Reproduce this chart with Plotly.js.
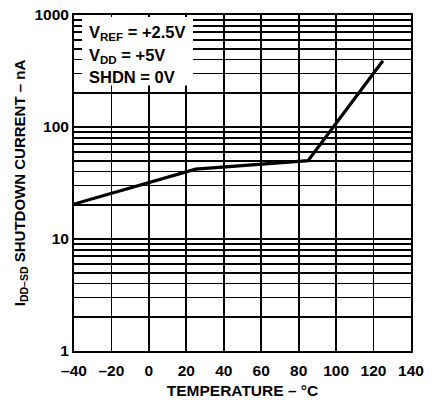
<!DOCTYPE html>
<html><head><meta charset="utf-8">
<script src="https://cdn.plot.ly/plotly-3.0.1.min.js"></script>
<style>html,body{margin:0;padding:0;background:#fff}#chart{width:432px;height:400px}</style>
</head><body><div id="chart"></div>
<script>
// Data
const temperature = [-40, 0, 20, 25, 85, 125];
const shutdownCurrent = [20.5, 32, 39.5, 42, 50, 390];

const xTickVals = [-40, -20, 0, 20, 40, 60, 80, 100, 120, 140];
const xTickText = ['–40', '–20', '0', '20', '40', '60', '80', '100', '120', '140'];
const yTickVals = [1, 10, 100, 1000];
const yTickText = ['1', '10', '100', '1000'];
const yMinorVals = [2,3,4,5,6,7,8,9,20,30,40,50,60,70,80,90,200,300,400,500,600,700,800,900];

const noteLines = ['V<sub>REF</sub> = +2.5V', 'V<sub>DD</sub> = +5V', 'SHDN = 0V'];
const noteY = [0.946, 0.878, 0.814];

const trace = {
  x: temperature, y: shutdownCurrent, type: 'scatter', mode: 'lines',
  line: {color: '#000', width: 3.2}, hoverinfo: 'skip'
};

const layout = {
  width: 432, height: 400,
  margin: {l: 74, r: 21, t: 15, b: 49},
  paper_bgcolor: '#fff', plot_bgcolor: '#fff',
  showlegend: false,
  font: {family: 'Liberation Sans, Arial, sans-serif', color: '#000', size: 15, weight: 'bold'},
  xaxis: {
    range: [-40, 140], tickvals: xTickVals, ticktext: xTickText,
    showgrid: true, gridcolor: '#000', gridwidth: 1.8, zeroline: false,
    showline: true, linecolor: '#000', linewidth: 2, mirror: true,
    ticks: 'outside', ticklen: 4, tickcolor: 'rgba(0,0,0,0)',
    tickfont: {size: 15.5, weight: 'bold'},
    title: {text: 'TEMPERATURE – °C', font: {size: 15.5, weight: 'bold'}, standoff: 8}
  },
  yaxis: {
    type: 'log', range: [0, 3], tickvals: yTickVals, ticktext: yTickText,
    showgrid: true, gridcolor: '#000', gridwidth: 1.8, zeroline: false,
    minor: {tickvals: yMinorVals, showgrid: true, gridcolor: '#000', gridwidth: 1.8, ticks: ''},
    showline: true, linecolor: '#000', linewidth: 2, mirror: true,
    ticks: '', tickfont: {size: 15.5, weight: 'bold'},
    title: {text: 'I<sub>DD–SD</sub> SHUTDOWN CURRENT – nA', font: {size: 15, weight: 'bold'}, standoff: 5}
  },
  shapes: [{
    type: 'rect', xref: 'paper', yref: 'paper', layer: 'above',
    x0: 0.024, x1: 0.353, y0: 0.79, y1: 0.994,
    fillcolor: '#fff', line: {width: 0}
  }],
  annotations: noteLines.map((t, i) => ({
    xref: 'paper', yref: 'paper', x: 0.038, y: noteY[i], xanchor: 'left', yanchor: 'middle',
    align: 'left', showarrow: false, text: t,
    font: {size: 16.5, weight: 'bold', color: '#000'}
  }))
};

Plotly.newPlot('chart', [trace], layout, {staticPlot: true, displayModeBar: false});
</script></body></html>
